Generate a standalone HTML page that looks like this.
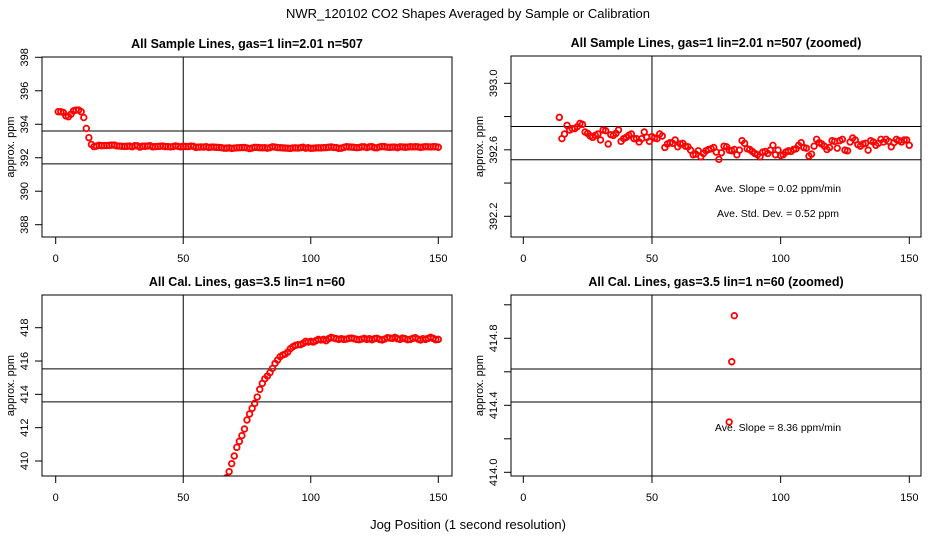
<!DOCTYPE html>
<html><head><meta charset="utf-8">
<style>
html,body{margin:0;padding:0;background:#fff;overflow:hidden;width:936px;height:540px;}
svg{display:block;font-family:"Liberation Sans",sans-serif;}
</style></head>
<body>
<svg id="chart" width="936" height="540" viewBox="0 0 936 540" xmlns="http://www.w3.org/2000/svg">
<rect width="936" height="540" fill="#fff"/>
<text x="468" y="18" text-anchor="middle" font-size="13">NWR_120102  CO2 Shapes Averaged by Sample or Calibration</text>
<text x="468" y="529" text-anchor="middle" font-size="13">Jog Position (1 second resolution)</text>
</svg>
<script>
const sampleX = [];
for (let i = 1; i <= 150; i++) sampleX.push(i);
const sampleValues = [394.75,394.75,394.7,394.5,394.45,394.6,394.8,394.85,394.85,394.75,394.4,393.75,393.2,
392.795,392.667,392.695,392.747,392.719,392.727,392.727,392.739,392.759,392.753,392.707,392.699,392.683,392.675,392.687,392.695,
392.659,392.719,392.715,392.635,392.691,392.687,392.699,392.719,392.651,392.667,392.675,392.687,392.695,392.667,392.667,392.647,
392.667,392.707,392.675,392.651,392.679,392.671,392.667,392.695,392.683,392.614,392.635,392.643,392.639,392.659,392.618,392.635,
392.639,392.622,392.618,392.598,392.570,392.574,392.594,392.558,392.578,392.594,392.602,392.606,392.614,392.586,392.542,392.582,
392.622,392.618,392.598,392.594,392.602,392.570,392.598,392.655,392.639,392.606,392.602,392.590,392.578,392.570,392.558,392.586,
392.590,392.578,392.598,392.627,392.570,392.598,392.566,392.570,392.586,392.594,392.590,392.602,392.606,392.627,392.643,392.614,
392.610,392.562,392.574,392.622,392.663,392.643,392.635,392.622,392.602,392.614,392.655,392.651,392.610,392.655,392.663,392.598,
392.594,392.647,392.671,392.659,392.631,392.622,392.635,392.639,392.598,392.655,392.647,392.627,392.639,392.663,392.647,392.663,
392.651,392.618,392.643,392.663,392.655,392.647,392.659,392.659,392.627];
const calX = [];
for (let i = 67; i <= 150; i++) calX.push(i);
const calValues = [409.0,409.36,409.84,410.3,410.82,411.18,411.52,411.92,412.46,412.82,413.16,413.46,413.84,414.3,414.66,414.935,
415.1,415.3,415.56,415.86,416.06,416.26,416.36,416.42,416.54,416.74,416.86,416.94,416.98,416.98,417.06,417.18,417.14,417.18,
417.14,417.22,417.3,417.26,417.3,417.22,417.34,417.42,417.38,417.34,417.3,417.34,417.3,417.32,417.36,417.38,417.34,417.3,
417.28,417.32,417.36,417.3,417.34,417.28,417.34,417.36,417.3,417.26,417.32,417.4,417.38,417.36,417.42,417.34,417.3,417.38,
417.34,417.28,417.3,417.36,417.4,417.32,417.26,417.34,417.3,417.36,417.42,417.36,417.28,417.3];
const xTicks = [0,50,100,150];
const p1Ticks = [388,390,392,394,396,398];
const p2Ticks = [392.2,392.4,392.6,392.8,393.0];
const p2Labels = ["392.2","","392.6","","393.0"];
const p3Ticks = [410,412,414,416,418];
const p4Ticks = [414.0,414.2,414.4,414.6,414.8,415.0];
const p4Labels = ["414.0","","414.4","","414.8",""];

const NS = "http://www.w3.org/2000/svg";
const svg = document.getElementById('chart');
function mk(tag, attrs, parent){const e=document.createElementNS(NS,tag);for(const k in attrs)e.setAttribute(k,attrs[k]);(parent||svg).appendChild(e);return e;}

function panel(cfg){
  const g = mk('g',{});
  
  
  const xs = v => cfg.x0 + (v - 0) * (cfg.x150 - cfg.x0) / 150;
  const ys = v => cfg.yA + (v - cfg.vA) * (cfg.yB - cfg.yA) / (cfg.vB - cfg.vA);
  const clipId = cfg.name + '-clip';
  const cp = mk('clipPath',{id:clipId},g);
  mk('rect',{x:cfg.L,y:cfg.T,width:cfg.R-cfg.L,height:cfg.B-cfg.T},cp);
  const t = mk('text',{x:(cfg.L+cfg.R)/2,y:cfg.T-9,'text-anchor':'middle','font-size':'12.5','font-weight':'bold'},g);
  
  
  t.textContent = cfg.title;
  const lines = mk('g',{'clip-path':'url(#'+clipId+')',stroke:'#000','stroke-width':'1'},g);
  
  
  mk('line',{x1:xs(50),x2:xs(50),y1:cfg.T,y2:cfg.B},lines);
  cfg.hlines.forEach(h=>mk('line',{x1:cfg.L,x2:cfg.R,y1:ys(h),y2:ys(h)},lines));
  const pts = mk('g',{'clip-path':'url(#'+clipId+')',fill:'none',stroke:'#f00','stroke-width':'1.8'},g);
  
  
  cfg.xv.forEach((xv,i)=>{
    const cx = xs(xv), cy = ys(cfg.yv[i]);
    if (cy < cfg.T - 5 || cy > cfg.B + 5 || cx < cfg.L - 5 || cx > cfg.R + 5) return;
    const c = mk('circle',{cx:cx,cy:cy,r:2.8},pts);
    
    
  });
  const box = mk('rect',{x:cfg.L,y:cfg.T,width:cfg.R-cfg.L,height:cfg.B-cfg.T,fill:'none',stroke:'#000','stroke-width':'1'},g);
  
  
  const xa = mk('g',{},g);
  
  
  xTicks.forEach(v=>{
    mk('line',{x1:xs(v),x2:xs(v),y1:cfg.B,y2:cfg.B+7,stroke:'#000'},xa);
    const l = mk('text',{x:xs(v),y:cfg.B+25,'text-anchor':'middle','font-size':'11'},xa);
    
    
    l.textContent = String(v);
  });
  const ya = mk('g',{},g);
  
  
  cfg.yticks.forEach((v,i)=>{
    const y = ys(v);
    mk('line',{x1:cfg.L-7,x2:cfg.L,y1:y,y2:y,stroke:'#000'},ya);
    const lab = cfg.ylabels ? cfg.ylabels[i] : String(v);
    if(lab){
      const l = mk('text',{x:0,y:0,'text-anchor':'middle','font-size':'11',transform:'translate('+(cfg.L-14)+','+y+') rotate(-90)'},ya);
      
      
      l.textContent = lab;
    }
  });
  const yt = mk('text',{x:0,y:0,'text-anchor':'middle','font-size':'11',transform:'translate('+(cfg.L-28)+','+((cfg.T+cfg.B)/2)+') rotate(-90)'},g);
  
  
  yt.textContent = 'approx. ppm';
  (cfg.notes||[]).forEach(n=>{
    const a = mk('text',{x:n[0],y:n[1],'text-anchor':'middle','font-size':'10.5'},g);
    
    
    a.textContent = n[2];
  });
}

panel({name:'sample-panel',title:'All Sample Lines, gas=1 lin=2.01 n=507',L:42,R:452,T:57,B:237,x0:55.7,x150:438.3,
  vA:398,yA:57.3,vB:388,yB:224.7,hlines:[393.6,391.63],yticks:p1Ticks,xv:sampleX,yv:sampleValues});
panel({name:'sample-zoomed-panel',title:'All Sample Lines, gas=1 lin=2.01 n=507 (zoomed)',L:511,R:921,T:56,B:237,x0:523.3,x150:909.3,
  vA:393.0,yA:83.3,vB:392.2,yB:216.3,hlines:[392.74,392.54],yticks:p2Ticks,ylabels:p2Labels,xv:sampleX,yv:sampleValues,
  notes:[[778,192,'Ave. Slope =  0.02  ppm/min'],[778,217,'Ave. Std. Dev. =  0.52  ppm']]});
panel({name:'cal-panel',title:'All Cal. Lines, gas=3.5 lin=1 n=60',L:42,R:452,T:295,B:476,x0:55.7,x150:438.3,
  vA:418,yA:327.7,vB:410,yB:461,hlines:[415.53,413.55],yticks:p3Ticks,xv:calX,yv:calValues});
panel({name:'cal-zoomed-panel',title:'All Cal. Lines, gas=3.5 lin=1 n=60 (zoomed)',L:511,R:921,T:295,B:476,x0:523.3,x150:909.3,
  vA:414.8,yA:338.3,vB:414.0,yB:472.3,hlines:[414.617,414.42],yticks:p4Ticks,ylabels:p4Labels,xv:calX,yv:calValues,
  notes:[[778,431,'Ave. Slope =  8.36  ppm/min']]});
</script>
</body></html>
